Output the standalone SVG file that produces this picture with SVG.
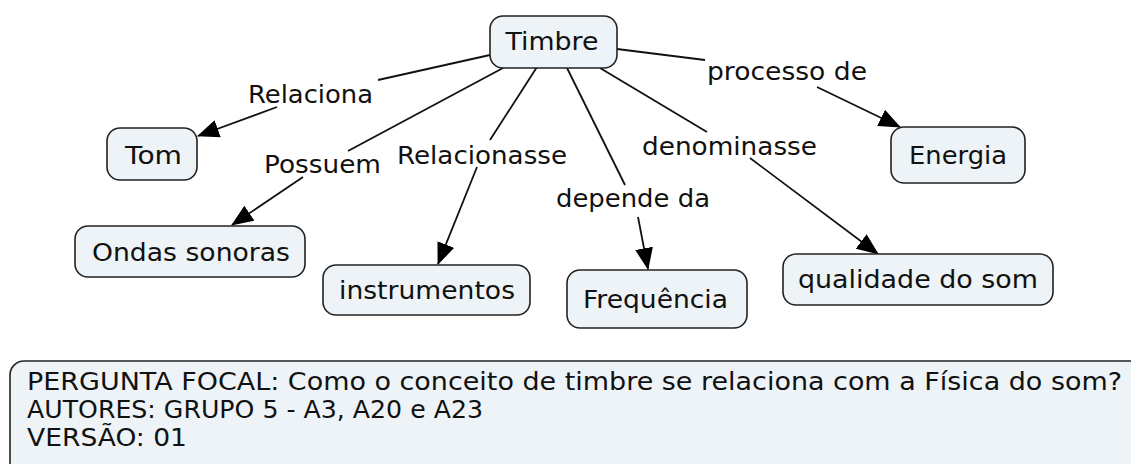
<svg xmlns="http://www.w3.org/2000/svg" width="1131" height="464" viewBox="0 0 1131 464">
<style>
.node rect{fill:#edf3f6;stroke:#222;stroke-width:1.6}
text{font-family:"DejaVu Sans",Verdana,sans-serif;font-size:25px;fill:#111}
.node text{text-anchor:middle}
.lbl{text-anchor:middle}
.c line{stroke:#111;stroke-width:1.8}
.info text{text-anchor:start}
</style>
<defs>
<marker id="ah" markerUnits="userSpaceOnUse" markerWidth="22" markerHeight="18" refX="21" refY="9" orient="auto">
<path d="M0,0 L22,9 L0,18 z" fill="#000"/>
</marker>
</defs>
<rect width="1131" height="464" fill="#fff"/>
<g id="connectors" class="c">
<line x1="490" y1="55" x2="378" y2="80"/>
<line x1="277" y1="107" x2="198" y2="136" marker-end="url(#ah)"/>
<line x1="503" y1="68" x2="348" y2="151"/>
<line x1="303" y1="177" x2="232" y2="225" marker-end="url(#ah)"/>
<line x1="537" y1="67" x2="490" y2="140"/>
<line x1="477" y1="167" x2="438" y2="264" marker-end="url(#ah)"/>
<line x1="567" y1="68" x2="625" y2="185"/>
<line x1="638" y1="217" x2="648" y2="269" marker-end="url(#ah)"/>
<line x1="600" y1="68" x2="707" y2="132"/>
<line x1="750" y1="158" x2="878" y2="254" marker-end="url(#ah)"/>
<line x1="617" y1="49" x2="705" y2="60"/>
<line x1="817" y1="87" x2="900" y2="127" marker-end="url(#ah)"/>
</g>
<g id="labels">
<text class="lbl" x="310.5" y="103" textLength="125" lengthAdjust="spacingAndGlyphs">Relaciona</text>
<text class="lbl" x="322.5" y="173" textLength="117" lengthAdjust="spacingAndGlyphs">Possuem</text>
<text class="lbl" x="482" y="164" textLength="170" lengthAdjust="spacingAndGlyphs">Relacionasse</text>
<text class="lbl" x="633" y="207" textLength="154" lengthAdjust="spacingAndGlyphs">depende da</text>
<text class="lbl" x="729.5" y="155" textLength="175" lengthAdjust="spacingAndGlyphs">denominasse</text>
<text class="lbl" x="787" y="80" textLength="160" lengthAdjust="spacingAndGlyphs">processo de</text>
</g>
<g id="timbre" class="node"><rect x="490" y="16" width="127" height="52" rx="13"/><text x="552" y="50" textLength="93" lengthAdjust="spacingAndGlyphs">Timbre</text></g>
<g id="tom" class="node"><rect x="107" y="128" width="90" height="52" rx="13"/><text x="153.5" y="164" textLength="57" lengthAdjust="spacingAndGlyphs">Tom</text></g>
<g id="energia" class="node"><rect x="891" y="127" width="134" height="56" rx="13"/><text x="958" y="164" textLength="98" lengthAdjust="spacingAndGlyphs">Energia</text></g>
<g id="ondas" class="node"><rect x="75" y="226" width="230" height="51" rx="13"/><text x="191" y="261" textLength="198" lengthAdjust="spacingAndGlyphs">Ondas sonoras</text></g>
<g id="instrumentos" class="node"><rect x="323" y="265" width="207" height="50" rx="13"/><text x="427" y="299" textLength="176" lengthAdjust="spacingAndGlyphs">instrumentos</text></g>
<g id="frequencia" class="node"><rect x="567" y="270" width="180" height="58" rx="13"/><text x="655.5" y="308" textLength="145" lengthAdjust="spacingAndGlyphs">Frequência</text></g>
<g id="qualidade" class="node"><rect x="783" y="254" width="270" height="51" rx="13"/><text x="918" y="288" textLength="240" lengthAdjust="spacingAndGlyphs">qualidade do som</text></g>
<g id="info" class="node info">
<rect x="10" y="361" width="1150" height="130" rx="14"/>
<text x="27" y="390" textLength="1095" lengthAdjust="spacingAndGlyphs">PERGUNTA FOCAL: Como o conceito de timbre se relaciona com a Física do som?</text>
<text x="27" y="418" textLength="456" lengthAdjust="spacingAndGlyphs">AUTORES: GRUPO 5 - A3, A20 e A23</text>
<text x="27" y="446" textLength="160" lengthAdjust="spacingAndGlyphs">VERSÃO: 01</text>
</g>
</svg>
